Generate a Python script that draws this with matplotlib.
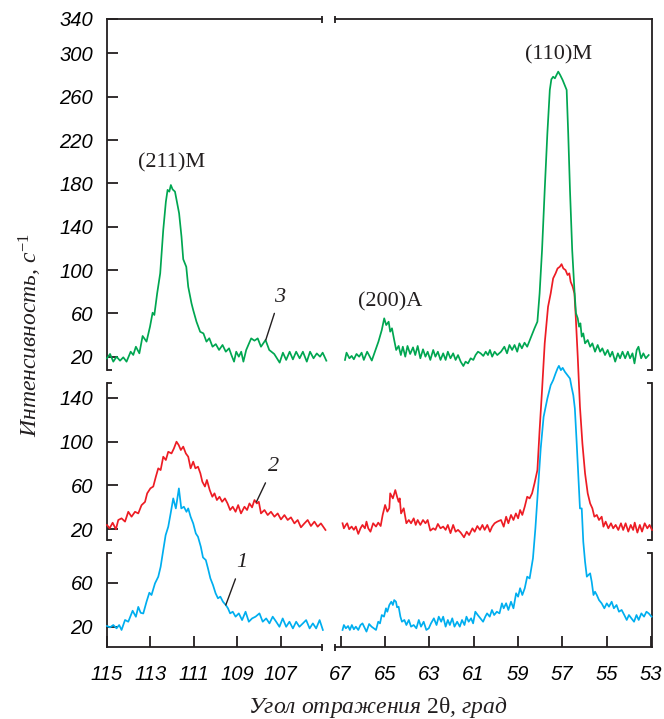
import numpy as np
import matplotlib
matplotlib.use("Agg")
import matplotlib.pyplot as plt

plt.rcParams['mathtext.fontset'] = 'custom'
plt.rcParams['mathtext.rm'] = 'Liberation Serif'
plt.rcParams['mathtext.it'] = 'Liberation Serif:italic'

# ---------------- data (2theta, intensity) ----------------
# curve 3 (green), top panel
green_left = [(115.00,18.5),(114.86,22.5),(114.71,15.4),(114.56,20),(114.40,16.3),(114.25,19.4),(114.10,15.4),
              (113.91,24.6),(113.79,21.6),(113.67,29.2),(113.51,23.1),(113.36,39.1),(113.18,33.9),(113.02,47.7),
              (112.90,60.6),(112.82,58.5),(112.69,78.5),(112.55,97),(112.41,137),(112.29,163),(112.21,174),
              (112.13,172.4),(112.06,178.5),(111.98,174.5),(111.87,172.4),(111.68,152.4),(111.57,130.8),
              (111.49,110),(111.35,103),(111.26,84.6),(111.11,69.3),(111.03,63),(110.88,52.3),(110.71,43),
              (110.56,41.5),(110.42,33.9),(110.29,37),(110.14,29.2),(109.99,31.6),(109.84,26.2),(109.68,30.8),
              (109.53,24.6),(109.38,27.7),(109.27,21.5),(109.15,15.4),(109.05,24.6),(108.93,20),(108.82,24.6),
              (108.72,15.4),(108.59,26.2),(108.46,32.3),(108.36,36.9),(108.21,34.8),(108.06,36.9),(107.91,29.2),
              (107.70,35.4),(107.53,26.2),(107.30,22.5),(107.05,14.5),(106.90,23.7),(106.75,17),(106.59,24.6),
              (106.44,17.5),(106.29,24.6),(106.13,18.5),(105.98,24.6),(105.80,15.4),(105.65,24.6),(105.49,18.5),
              (105.34,23),(105.19,20),(105.07,23.7),(104.90,16.3)]
green_right = [(66.80,17),(66.73,23.7),(66.60,18.5),(66.50,20.7),(66.40,17.6),(66.28,22.5),(66.16,20),(66.05,23.7),
               (65.95,17),(65.80,24.6),(65.68,20),(65.59,16.4),(65.45,24.6),(65.29,33.9),(65.14,44.6),(65.03,55.4),
               (64.94,49.2),(64.83,52.3),(64.76,43.1),(64.68,46.2),(64.58,35.4),(64.49,26.2),(64.38,29.9),
               (64.28,21.5),(64.19,29.2),(64.08,20),(63.98,29.9),(63.86,22.5),(63.73,28.6),(63.63,21.5),
               (63.52,29.9),(63.40,18.5),(63.28,26.8),(63.17,20),(63.07,24.6),(62.95,17),(62.82,26.2),(62.72,20),
               (62.61,24.6),(62.49,17),(62.37,23.1),(62.26,17),(62.16,24.6),(62.04,18.5),(61.92,23.1),(61.81,17),
               (61.70,21.5),(61.58,15.4),(61.46,11.4),(61.36,15.4),(61.25,13.8),(61.13,18.5),(61.01,17),
               (60.91,21.5),(60.80,24.6),(60.68,23.1),(60.56,20.7),(60.45,24.6),(60.35,21.5),(60.26,26.2),
               (60.16,20),(60.05,24.6),(59.93,21.5),(59.76,24.6),(59.61,29.2),(59.49,23.1),(59.38,30.8),
               (59.26,26.2),(59.15,30.8),(59.03,24.6),(58.93,32.3),(58.82,27.7),(58.70,32.9),(58.58,29.2),
               (58.40,38.5),(58.25,46.2),(58.12,52.3),(58.02,78.5),(57.91,118.5),(57.79,173.9),(57.67,226.3),
               (57.56,266.3),(57.49,276.1),(57.41,278.5),(57.33,277),(57.26,280),(57.18,283.2),(57.09,280),
               (56.98,275.4),(56.80,266.3),(56.73,226.3),(56.65,173.9),(56.55,118.5),(56.45,81.6),(56.38,60.1),
               (56.30,55.4),(56.24,47.7),(56.18,50.8),(56.12,38.5),(56.05,41.5),(55.97,32.3),(55.85,35.4),
               (55.74,29.2),(55.64,32.3),(55.52,24.6),(55.40,30.8),(55.29,24.6),(55.19,27.7),(55.07,21.5),
               (54.95,26.2),(54.84,20),(54.74,24.6),(54.61,15.4),(54.49,23.1),(54.39,18.5),(54.28,24.6),
               (54.16,18.5),(54.04,24.6),(53.94,18.5),(53.83,23.1),(53.74,13.8),(53.64,26.2),(53.56,29.2),
               (53.44,18.5),(53.34,23.1),(53.23,18.5),(53.10,21.5)]

# curve 2 (red), middle panel
red_left = [(115.00,23.9),(114.88,20.9),(114.74,26),(114.59,20),(114.48,28.5),(114.33,30),(114.17,27),(114.02,36),
            (113.87,31.5),(113.71,36),(113.56,34.5),(113.41,42),(113.25,45),(113.15,52.8),(113.00,57.4),
            (112.87,59),(112.75,68),(112.64,75.6),(112.53,74),(112.41,86.2),(112.29,83.2),(112.18,90.7),
            (112.03,89.2),(111.92,93.7),(111.80,99.9),(111.70,96.9),(111.60,92.3),(111.49,95.4),(111.37,89.2),
            (111.26,86.2),(111.15,75.6),(111.03,81.7),(110.93,75.6),(110.81,77.1),(110.70,71),(110.61,63.4),
            (110.49,59),(110.40,65),(110.27,55.8),(110.15,49.7),(110.05,52.8),(109.94,46.7),(109.82,49.7),
            (109.70,45.1),(109.57,48.2),(109.45,43.6),(109.33,37.6),(109.21,40.6),(109.08,36),(108.96,42.1),
            (108.83,34.5),(108.67,40.6),(108.55,37.6),(108.44,43.6),(108.32,40),(108.21,46.7),(108.10,43.6),
            (108.01,45.1),(107.91,34.5),(107.75,37.6),(107.60,33),(107.45,36),(107.29,31.5),(107.14,34.5),
            (106.99,29),(106.83,33),(106.68,28.5),(106.53,30.9),(106.37,25.4),(106.22,28.5),(106.07,21.8),
            (105.91,25.4),(105.76,28.5),(105.61,23),(105.45,27),(105.30,22.4),(105.15,25.4),(104.94,19.4)]
red_right = [(66.91,25.5),(66.85,20.9),(66.76,24),(66.70,25.5),(66.61,20.1),(66.50,22.5),(66.40,19.5),(66.31,22.5),
             (66.20,15.8),(66.10,20.9),(66.01,24),(65.90,20.9),(65.83,27),(65.75,20.9),(65.65,17.8),(65.53,25.5),
             (65.40,22.5),(65.30,26.1),(65.19,23),(65.10,33.1),(64.99,42.2),(64.89,36.1),(64.80,39.2),
             (64.76,52.8),(64.64,48.2),(64.53,55.8),(64.45,49.7),(64.38,45.1),(64.33,48.2),(64.27,34.5),
             (64.15,39.2),(64.03,25.5),(63.92,28.5),(63.82,25.5),(63.70,30),(63.61,24),(63.52,28.5),(63.40,24),
             (63.28,28.5),(63.17,25.5),(63.07,28.5),(62.95,18.8),(62.82,20.9),(62.72,19.5),(62.61,24.9),
             (62.49,20.9),(62.37,22.5),(62.26,19.5),(62.16,24),(62.04,16.5),(61.92,24),(61.81,17.8),(61.70,19.5),
             (61.58,17),(61.43,12.7),(61.31,17.8),(61.20,14.8),(61.05,20.9),(60.95,17.8),(60.83,23),(60.71,19.5),
             (60.60,24),(60.50,19.5),(60.38,24),(60.26,17.8),(60.16,22.5),(60.05,25.5),(59.93,27),(59.76,28.5),
             (59.64,22.4),(59.53,31.5),(59.43,25.5),(59.31,33.1),(59.20,28.5),(59.09,34.5),(58.99,30),
             (58.90,37.6),(58.80,33.1),(58.69,40.7),(58.58,49.7),(58.47,48.2),(58.36,52.8),(58.25,61.9),
             (58.12,74),(58.02,110.5),(57.91,147),(57.79,189.6),(57.64,222.9),(57.52,235.1),(57.41,248.8),
             (57.30,253.4),(57.21,257.9),(57.11,259.4),(57.03,261.8),(56.95,257.9),(56.85,256.4),(56.76,251.9),
             (56.68,253.4),(56.62,245.8),(56.53,241.3),(56.45,235.1),(56.39,213.9),(56.30,177.4),(56.20,131.8),
             (56.09,98.4),(55.97,71),(55.85,52.8),(55.74,43.6),(55.64,39.1),(55.55,31.5),(55.44,33.1),
             (55.34,28.5),(55.22,31.5),(55.14,22.4),(55.04,27),(54.92,20.9),(54.80,25.5),(54.70,20.9),(54.59,24),
             (54.47,19.4),(54.35,25.5),(54.25,19.4),(54.14,25.5),(54.02,17.9),(53.91,24),(53.80,19.4),
             (53.73,26.1),(53.61,17),(53.50,24),(53.40,17.9),(53.28,25.5),(53.16,20.9),(53.06,24),(52.95,19.4)]

# curve 1 (blue), bottom panel
blue_left = [(115.00,20.6),(114.86,19.4),(114.71,21.5),(114.56,18.5),(114.44,21.5),(114.33,17),(114.17,26.1),
             (114.02,24.5),(113.82,34.5),(113.67,29),(113.56,38),(113.45,32.6),(113.33,32),(113.18,42.7),
             (113.05,50.9),(112.95,48.8),(112.79,59.4),(112.64,65.4),(112.53,74.5),(112.41,89.7),(112.30,103.3),
             (112.18,110.9),(112.07,123),(111.95,136.7),(111.83,127.6),(111.69,145.8),(111.58,127.6),
             (111.46,129.1),(111.34,124.5),(111.26,127.6),(111.15,120),(111.03,113.9),(110.91,104.8),
             (110.81,101.8),(110.68,92.7),(110.58,83),(110.45,80.6),(110.35,73),(110.24,64),(110.12,57.9),
             (110.00,50.4),(109.89,45.8),(109.78,47.3),(109.66,42.7),(109.53,39.7),(109.43,36.7),(109.33,32.1),
             (109.21,33.6),(109.08,29.1),(108.93,32.1),(108.78,26),(108.62,33.6),(108.47,24.5),(108.32,27.5),
             (108.16,29.1),(107.98,32.1),(107.83,24.5),(107.67,27.5),(107.52,23),(107.37,29.1),(107.21,24.5),
             (107.06,19.9),(106.91,27.5),(106.75,19.9),(106.60,24.5),(106.44,18.4),(106.29,24.5),(106.14,19.9),
             (105.98,23),(105.83,26),(105.67,18.4),(105.52,23),(105.37,18.4),(105.21,26),(105.06,17)]
blue_right = [(66.91,17),(66.85,21.5),(66.76,18.5),(66.66,20.6),(66.58,17),(66.49,21.5),(66.40,17.6),(66.31,20),
              (66.20,17),(66.10,21.5),(66.01,23),(65.90,18.5),(65.83,15.5),(65.71,22.4),(65.60,20),(65.50,18.5),
              (65.40,17),(65.30,24.5),(65.22,23),(65.14,30.6),(65.04,29.1),(64.95,36.7),(64.89,33.6),
              (64.80,39.7),(64.71,42.7),(64.64,39.7),(64.58,44.2),(64.50,42.7),(64.45,37.6),(64.38,38.2),
              (64.30,29.1),(64.23,24.5),(64.12,26.1),(64.03,21.5),(63.92,26.1),(63.82,20),(63.70,21.5),
              (63.58,18.5),(63.47,26.1),(63.37,20),(63.25,24.5),(63.13,17),(63.02,18.5),(62.92,23),(62.79,27.6),
              (62.67,21.5),(62.57,29.1),(62.46,24.5),(62.37,29.1),(62.26,20),(62.16,26.1),(62.07,21.5),
              (61.96,27.6),(61.86,20),(61.74,24.5),(61.62,20),(61.52,26.1),(61.41,21.5),(61.32,29.1),(61.22,24.5),
              (61.11,27.6),(61.02,23),(60.92,33.6),(60.81,30.6),(60.69,27.6),(60.57,24.5),(60.47,29.1),
              (60.39,32.1),(60.27,29.1),(60.17,35.2),(60.07,30.6),(59.95,33.6),(59.83,32.1),(59.72,41.2),
              (59.64,36.7),(59.53,41.3),(59.43,35.2),(59.31,42.7),(59.20,36.7),(59.08,50.4),(58.99,47.3),
              (58.90,55),(58.80,48.8),(58.69,55),(58.58,65.5),(58.47,63.9),(58.32,82.2),(58.21,109.5),
              (58.09,145.8),(57.97,182.2),(57.84,210.9),(57.67,227.6),(57.52,239.7),(57.41,244.2),(57.30,250.4),
              (57.21,255),(57.15,257.3),(57.06,253.4),(56.98,255.5),(56.88,251.9),(56.76,248.8),(56.65,245.8),
              (56.58,238.2),(56.50,230.6),(56.43,218.5),(56.35,188.2),(56.27,154.9),(56.20,127.6),(56.12,127.6),
              (56.05,97.3),(55.97,79.1),(55.89,65.5),(55.82,67),(55.74,68.5),(55.67,60.9),(55.59,48.8),
              (55.52,51.8),(55.44,48.8),(55.34,44.2),(55.22,41.2),(55.10,36.7),(54.99,41.2),(54.89,38.2),
              (54.77,42.7),(54.67,36.7),(54.55,39.7),(54.44,33.6),(54.32,35.2),(54.20,30.6),(54.09,26.1),
              (53.99,30.6),(53.88,27.6),(53.76,24.5),(53.65,30.6),(53.55,26.1),(53.43,32.1),(53.31,29.1),
              (53.20,33.6),(53.10,32.1),(52.97,29.1)]

left_xticks = [115, 113, 111, 109, 107]
right_xticks = [67, 65, 63, 61, 59, 57, 55, 53]
top_yticks = [20, 60, 100, 140, 180, 220, 260, 300]
mid_yticks = [20, 60, 100, 140]
bot_yticks = [20, 60]

# ---------------- layout ----------------
W, H = 664, 719
fig = plt.figure(figsize=(W / 100, H / 100), dpi=100)

def rect(x0, x1, y0, y1):
    return [x0 / W, 1 - y1 / H, (x1 - x0) / W, (y1 - y0) / H]

cols = [(107, 322), (335, 652)]
rows = [(552.7, 647), (382.7, 540), (19, 370)]          # bottom, middle, top
xlims = [(115, 105.1), (67.25, 52.95)]
ylims = [(1.5, 87.3), (10.25, 153.7), (7.7, 331.8)]
colors = ['#00AEEF', '#ED1C24', '#00A651']
series = [(blue_left, blue_right), (red_left, red_right), (green_left, green_right)]

SP = '#231F20'
tickfont = dict(family='Liberation Sans', style='italic', size=14.5)
axes = {}
for r, (y0, y1) in enumerate(rows):
    for c, (x0, x1) in enumerate(cols):
        ax = fig.add_axes(rect(x0, x1, y0, y1))
        ax.set_facecolor('none')
        ax.set_xlim(*xlims[c])
        ax.set_ylim(*ylims[r])
        for s in ax.spines.values():
            s.set_visible(False)
            s.set_color(SP)
            s.set_linewidth(1.3)
        ax.spines['left' if c == 0 else 'right'].set_visible(True)
        if r == 0:
            ax.spines['bottom'].set_visible(True)
        if r == 2:
            ax.spines['top'].set_visible(True)
        ax.tick_params(direction='in', length=8, width=1.3, color=SP,
                       left=(c == 0), right=False, top=False, bottom=(r == 0),
                       labelleft=(c == 0), labelbottom=(r == 0))
        ax.tick_params(axis='y', pad=10)
        ax.tick_params(axis='x', pad=13)
        if r == 0:
            ax.set_xticks(left_xticks if c == 0 else right_xticks)
            ax.set_xticklabels([str(v) for v in (left_xticks if c == 0 else right_xticks)], fontdict=tickfont)
        else:
            ax.set_xticks([])
        if c == 0:
            if r == 2:
                ax.set_yticks(top_yticks + [ylims[2][1]])
                ax.set_yticklabels([str(v) for v in top_yticks] + ['340'], fontdict=tickfont)
            else:
                yt = bot_yticks if r == 0 else mid_yticks
                ax.set_yticks(yt)
                ax.set_yticklabels([str(v) for v in yt], fontdict=tickfont)
        else:
            ax.set_yticks([])
        data = np.array(series[r][c])
        ax.plot(data[:, 0], data[:, 1], color=colors[r], lw=1.25, clip_on=False, zorder=3)
        axes[(r, c)] = ax

        # break markers
        kw = dict(color=SP, lw=1.3, clip_on=False, transform=ax.transAxes, solid_capstyle='butt')
        wpx, hpx = x1 - x0, y1 - y0
        hx = 5 / wpx
        if c == 0:
            if r != 2:
                ax.plot([0, hx], [1, 1], **kw)
            if r != 0:
                ax.plot([0, hx], [0, 0], **kw)
        else:
            if r != 2:
                ax.plot([1 - hx, 1], [1, 1], **kw)
            if r != 0:
                ax.plot([1 - hx, 1], [0, 0], **kw)
        vy = 3.5 / hpx
        edge = 1 if c == 0 else 0
        if r == 2:
            ax.plot([edge, edge], [1 - vy, 1 + vy], **kw)
        if r == 0:
            ax.plot([edge, edge], [-vy, vy], **kw)

# ---------------- annotations ----------------
serif = dict(family='Liberation Serif', size=16, color='#231F20')
axes[(2, 0)].text(112.03, 198.6, '(211)M', ha='center', va='center', **serif)
axes[(2, 1)].text(64.76, 70.8, '(200)A', ha='center', va='center', **serif)
axes[(2, 1)].text(57.15, 298.6, '(110)M', ha='center', va='center', **serif)

num = dict(family='Liberation Serif', style='italic', size=16, color='#231F20')
arr = dict(arrowstyle='-', lw=1.0, color='#231F20', shrinkA=3, shrinkB=0)
axes[(2, 0)].annotate('3', xy=(107.69, 35.4), xytext=(107.05, 75), ha='center', va='center',
                      arrowprops=arr, **num)
axes[(1, 0)].annotate('2', xy=(108.12, 45), xytext=(107.35, 77), ha='center', va='center',
                      arrowprops=arr, **num)
axes[(0, 0)].annotate('1', xy=(109.53, 39.7), xytext=(108.81, 78.2), ha='center', va='center',
                      arrowprops=arr, **num)

fig.text(30 / W, 1 - 335 / H, 'Интенсивность, с$^{-1}$', rotation=90, ha='center', va='center',
         family='Liberation Serif', style='italic', size=17, color='#231F20')
fig.text(378 / W, 1 - 708 / H, r'Угол отражения $\mathrm{2\theta}$, град', ha='center', va='center',
         family='Liberation Serif', style='italic', size=17, color='#231F20')

fig.savefig('out.png', dpi=100)
